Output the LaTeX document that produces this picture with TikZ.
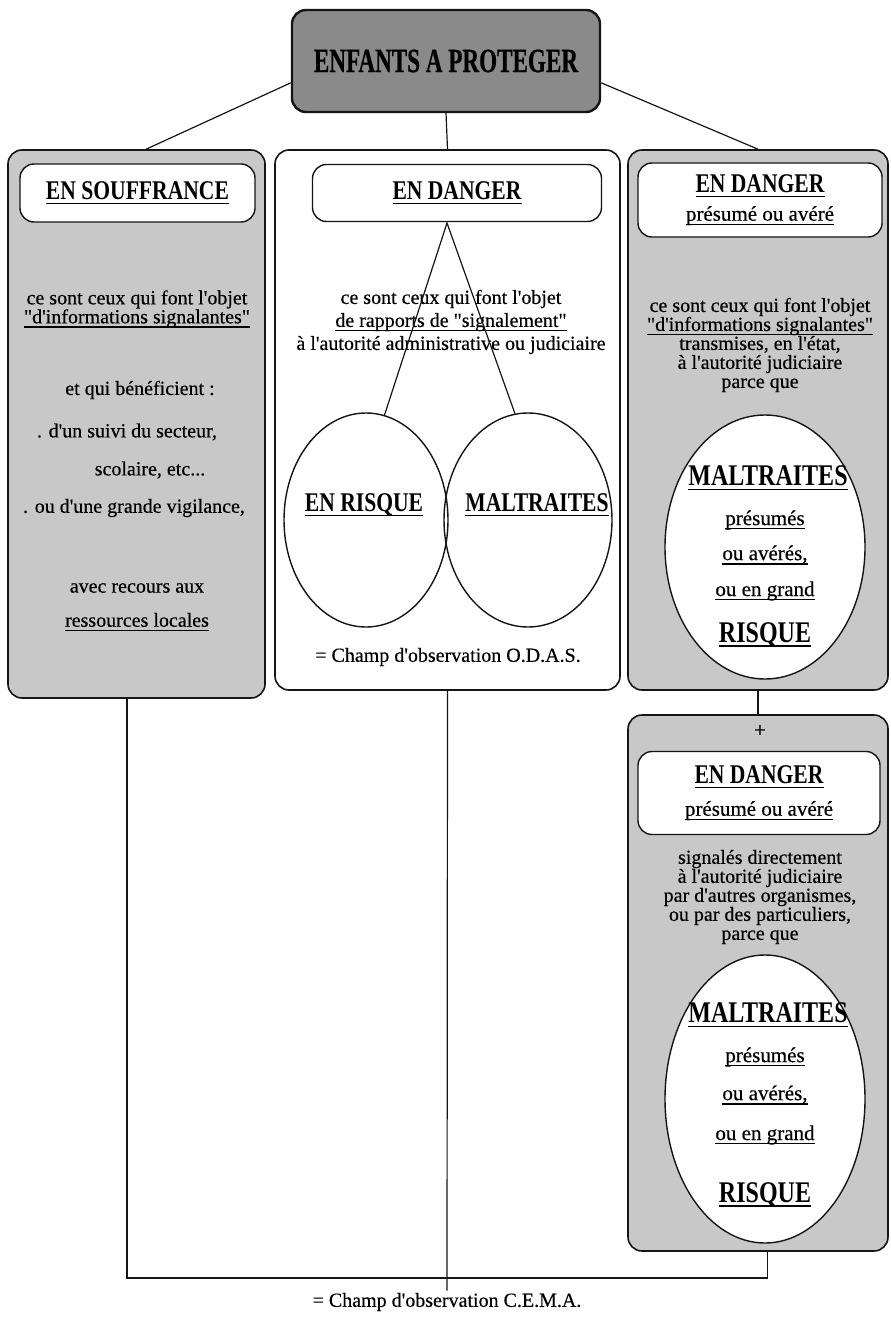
\documentclass[tikz,border=0pt]{standalone}
\usepackage{fontspec}
\setmainfont{Liberation Serif}[Ligatures=TeXOff,FakeBold=0.4]
\newfontfamily\narrowfont[Ligatures=TeXOff,FakeStretch=0.8]{Liberation Serif}
\newfontfamily\tightfont[Ligatures=TeXOff,FakeStretch=0.68,FakeBold=0.6]{Liberation Serif}
\usetikzlibrary{shapes.geometric,calc}
\definecolor{ink}{HTML}{151515}
\definecolor{shade}{HTML}{C8C8C8}
\definecolor{darkshade}{HTML}{8A8A8A}
\newsavebox\ulbox
\newcommand\ul[1]{\sbox\ulbox{#1}\rlap{\rule[-2.2pt]{\wd\ulbox}{0.75pt}}\usebox\ulbox}

\begin{document}
\begin{tikzpicture}[x=0.5pt,y=-0.5pt,
   panel/.style={draw=ink,line width=0.8pt,rounded corners=7pt,inner sep=0pt},
   tag/.style={draw=ink,line width=0.7pt,fill=white,rounded corners=7pt,inner sep=0pt,align=center},
   ring/.style={draw=ink,line width=0.7pt,ellipse,inner sep=0pt},
   head/.style={font=\narrowfont\bfseries\fontsize{13.5}{14}\selectfont,inner sep=1pt},
   big/.style={font=\narrowfont\bfseries\fontsize{15}{16}\selectfont,inner sep=1pt},
   txt/.style={font=\fontsize{10}{9.5}\selectfont,align=center,inner sep=1pt},
   sub/.style={font=\fontsize{10.5}{11}\selectfont,inner sep=1pt},
   link/.style={draw=ink,line width=0.6pt}]
  \useasboundingbox (0,0) rectangle (890,1321);

  % top
  \node[panel,fill=darkshade,line width=1.2pt,minimum width=154pt,minimum height=51pt,
        font=\tightfont\bfseries\fontsize{17}{18}\selectfont] (top) at (446,61) {ENFANTS A PROTEGER};

  % the four panels
  \node[panel,fill=shade,minimum width=128.5pt,minimum height=274pt] (souf) at (136.5,424) {};
  \node[panel,fill=white,minimum width=172.5pt,minimum height=270pt] (odas) at (447.5,420) {};
  \node[panel,fill=shade,minimum width=130pt,minimum height=270pt] (jud) at (758,420) {};
  \node[panel,fill=shade,minimum width=130pt,minimum height=268pt] (dir) at (758,983) {};

  % en souffrance
  \node[tag,head,minimum width=117.5pt,minimum height=29pt] (soufH) at (137.5,193) {\ul{EN SOUFFRANCE}};
  \node[txt] (souf1) at (137,309) {ce sont ceux qui font l'objet\\\ul{"d'informations signalantes"}};
  \node[txt] (souf2) at (140,390) {et qui bénéficient :};
  \node[txt] (souf3) at (127,432) {. d'un suivi du secteur,};
  \node[txt] (souf4) at (150,470) {scolaire, etc...};
  \node[txt] (souf5) at (134,508) {. ou d'une grande vigilance,};
  \node[txt] (souf6) at (137,588) {avec recours aux};
  \node[txt] (souf7) at (137,622) {\ul{ressources locales}};

  % en danger (O.D.A.S.)
  \node[tag,head,minimum width=144.5pt,minimum height=28.5pt] (odasH) at (457,193) {\ul{EN DANGER}};
  \node[txt] (odas1) at (451,322) {ce sont ceux qui font l'objet\\[2pt]\ul{de rapports de "signalement"}\\[2pt]à l'autorité administrative ou judiciaire};
  \node[ring,minimum width=82pt,minimum height=107pt] (risque) at (366,520) {};
  \node[ring,minimum width=84pt,minimum height=107pt] (maltr) at (528,520) {};
  \node[head] (risqueT) at (364,505) {\ul{EN RISQUE}};
  \node[head] (maltrT) at (537,505) {\ul{MALTRAITES}};
  \node[txt] (odasC) at (448,657) {= Champ d'observation O.D.A.S.};
  \coordinate (apex) at (447,223);
  \draw[link] (risque.80) -- (apex) -- (maltr.97);

  % en danger, transmis
  \node[tag,minimum width=122pt,minimum height=37pt] (judH) at (760,200)
     {{\narrowfont\bfseries\fontsize{13.5}{14}\selectfont\ul{EN DANGER}}\\[2pt]{\fontsize{10.5}{11}\selectfont\ul{présumé ou avéré}}};
  \node[txt] (jud1) at (760,345) {ce sont ceux qui font l'objet\\\ul{"d'informations signalantes"}\\transmises, en l'état,\\à l'autorité judiciaire\\parce que};
  \node[ring,fill=white,minimum width=100pt,minimum height=132pt] (judE) at (765,547) {};
  \node[big] (judM) at (768,478) {\ul{MALTRAITES}};
  \node[sub] (judP1) at (765,520) {\ul{présumés}};
  \node[sub] (judP2) at (765,555) {\ul{ou avérés,}};
  \node[sub] (judP3) at (765,591) {\ul{ou en grand}};
  \node[big] (judR) at (765,635) {\ul{RISQUE}};

  % en danger, signales directement
  \node[sub] (plus) at (760,731) {+};
  \node[tag,minimum width=121pt,minimum height=41.5pt] (dirH) at (759,793)
     {{\narrowfont\bfseries\fontsize{13.5}{14}\selectfont\ul{EN DANGER}}\\[4pt]{\fontsize{10.5}{11}\selectfont\ul{présumé ou avéré}}};
  \node[txt] (dir1) at (760,897) {signalés directement\\à l'autorité judiciaire\\par d'autres organismes,\\ou par des particuliers,\\parce que};
  \node[ring,fill=white,minimum width=100pt,minimum height=144pt] (dirE) at (765,1099) {};
  \node[big] (dirM) at (768,1015) {\ul{MALTRAITES}};
  \node[sub] (dirP1) at (765,1057) {\ul{présumés}};
  \node[sub] (dirP2) at (765,1095) {\ul{ou avérés,}};
  \node[sub] (dirP3) at (765,1135) {\ul{ou en grand}};
  \node[big] (dirR) at (765,1195) {\ul{RISQUE}};

  % links
  \draw[link] (top.188) -- (souf.88);
  \draw[link] (top.south) -- (odas.north);
  \draw[link] (top.352) -- (jud.north);
  \draw[link] (jud.south) -- (dir.north);
  \coordinate (cema) at (447,1278);
  \node[txt] (cemaC) at (447,1302) {= Champ d'observation C.E.M.A.};
  \draw[link] (souf.268) |- (cema) -| (dir.272);
  \draw[link] (odas.south) -- (cemaC.north);
\end{tikzpicture}
\end{document}
